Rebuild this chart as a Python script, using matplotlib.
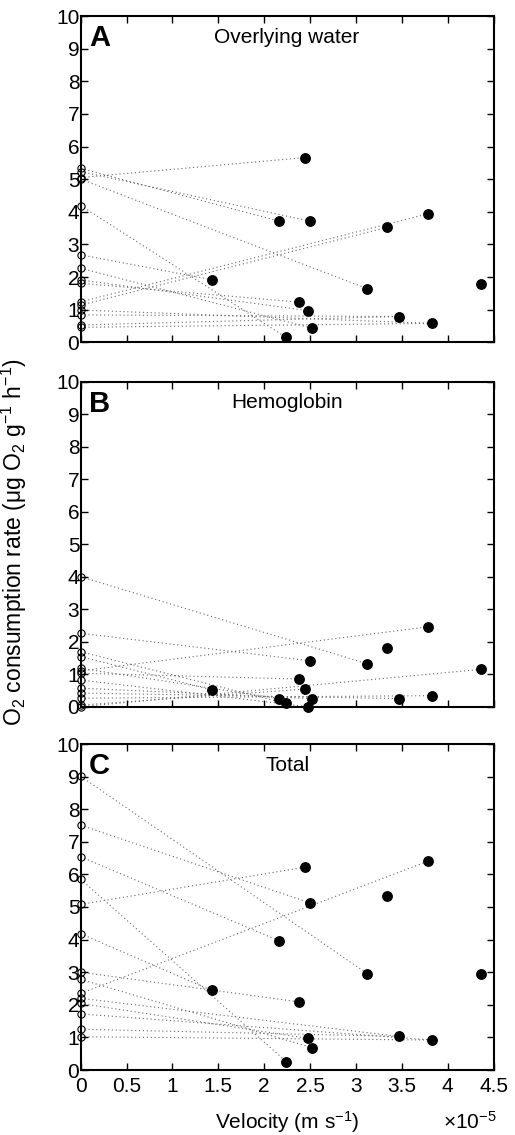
import matplotlib
matplotlib.use("Agg")
import matplotlib.pyplot as plt
from matplotlib.ticker import MultipleLocator, FuncFormatter

plt.rcParams['font.family'] = ['Liberation Sans', 'DejaVu Sans']
plt.rcParams['mathtext.fontset'] = 'custom'
plt.rcParams['mathtext.rm'] = 'Liberation Sans'
plt.rcParams['mathtext.it'] = 'Liberation Sans:italic'
plt.rcParams['mathtext.bf'] = 'Liberation Sans:bold'

# velocities (x 1e-5 m s-1) of the filled points (shared by all panels)
velocity = [1.429, 2.166, 2.239, 2.381, 2.44, 2.479, 2.505, 2.526,
            3.126, 3.337, 3.468, 3.79, 3.831, 4.366]

# O2 consumption at velocity
overlying_flow = [1.92, 3.71, 0.15, 1.23, 5.66, 0.97, 3.71, 0.43,
                  1.64, 3.52, 0.79, 3.94, 0.58, 1.80]
hemoglobin_flow = [0.52, 0.25, 0.10, 0.85, 0.54, 0.00, 1.41, 0.25,
                   1.32, 1.82, 0.25, 2.46, 0.34, 1.15]
total_flow = [2.44, 3.96, 0.26, 2.09, 6.22, 0.97, 5.12, 0.68,
              2.95, 5.34, 1.03, 6.41, 0.92, 2.95]

# O2 consumption at zero velocity (open circles)
overlying_still = [5.33, 5.23, 5.05, 5.00, 4.19, 2.68, 2.27, 1.91,
                   1.81, 1.24, 1.14, 0.99, 0.84, 0.53, 0.46]
hemoglobin_still = [4.00, 2.26, 1.69, 1.54, 1.18, 1.10, 1.03, 0.82,
                    0.57, 0.42, 0.26, 0.05, 0.00]
total_still = [9.01, 7.51, 6.54, 5.85, 5.08, 4.18, 3.00, 2.78, 2.35,
               2.20, 2.04, 1.72, 1.25, 1.02]

# links: (index into *_still, index into velocity)
overlying_links = [(0, 1), (1, 6), (2, 4), (3, 8), (4, 2), (5, 0), (6, 7),
                   (7, 5), (8, 3), (9, 11), (10, 9), (11, 12), (12, 10),
                   (13, 10), (14, 12)]
hemoglobin_links = [(0, 8), (1, 6), (2, 2), (3, 0), (4, 1), (5, 11), (6, 3),
                    (7, 5), (8, 7), (9, 10), (10, 12), (11, 4), (12, 13)]
total_links = [(0, 8), (1, 6), (2, 1), (3, 2), (4, 4), (5, 0), (6, 3),
               (7, 7), (8, 11), (9, 10), (10, 5), (11, 12), (12, 10),
               (13, 12)]

panels = [
    ("A", "Overlying water", overlying_still, overlying_flow, overlying_links),
    ("B", "Hemoglobin", hemoglobin_still, hemoglobin_flow, hemoglobin_links),
    ("C", "Total", total_still, total_flow, total_links),
]

W, H = 515, 1135
fig = plt.figure(figsize=(W / 100, H / 100), dpi=100)
left = 80.7 / W
width = (493.5 - 80.7) / W
tops = [16, 381.7, 744]
bottoms = [342.3, 706.7, 1070]

for k, (lab, title, still, flow, links) in enumerate(panels):
    ax = fig.add_axes([left, 1 - bottoms[k] / H, width,
                       (bottoms[k] - tops[k]) / H])
    for i, j in links:
        ax.plot([0, velocity[j]], [still[i], flow[j]], linestyle=(0, (1, 2.5)),
                color='0.4', linewidth=0.8, zorder=1)
    ax.plot([0] * len(still), still, 'o', mfc='none', mec='black',
            markersize=5.2, mew=0.8, clip_on=False, zorder=3)
    ax.plot(velocity, flow, 'o', color='black', markersize=6.8,
            clip_on=False, zorder=3)
    ax.set_xlim(0, 4.5)
    ax.set_ylim(0, 10)
    ax.xaxis.set_major_locator(MultipleLocator(0.5))
    ax.yaxis.set_major_locator(MultipleLocator(1))
    ax.xaxis.set_major_formatter(FuncFormatter(lambda v, p: f'{v:g}'))
    ax.tick_params(direction='in', top=True, right=True, length=5,
                   width=1, labelsize=15, pad=1)
    ax.tick_params(axis='x', pad=5)
    if k < 2:
        ax.tick_params(labelbottom=False)
    for s in ax.spines.values():
        s.set_linewidth(1.5)
    ax.text(0.02, 0.975, lab, transform=ax.transAxes, fontsize=21,
            fontweight='bold', va='top', ha='left')
    ax.text(0.5, 0.935, title, transform=ax.transAxes, fontsize=15,
            va='center', ha='center')

fig.text(14 / W, 1 - 542 / H,
         'O$_2$ consumption rate (μg O$_2$ g$^{-1}$ h$^{-1}$)',
         rotation=90, ha='center', va='center', fontsize=16.5)
fig.text(287 / W, 1 - 1122 / H, 'Velocity (m s$^{-1}$)', ha='center',
         va='center', fontsize=15)
fig.text(470 / W, 1 - 1122 / H, '×10$^{-5}$', ha='center', va='center',
         fontsize=15)

fig.savefig('out.png', dpi=100)
